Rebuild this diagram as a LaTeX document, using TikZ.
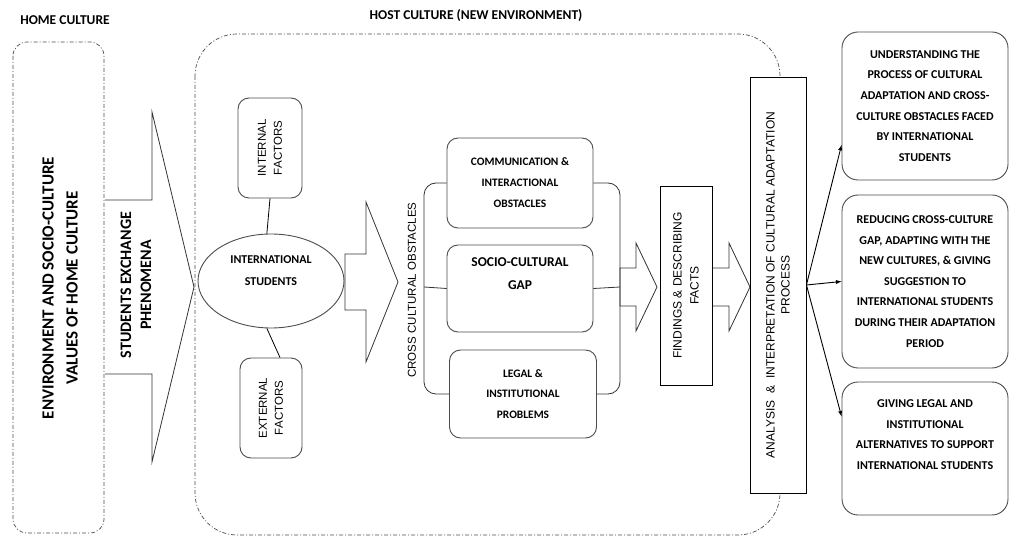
\documentclass[tikz,border=0pt]{standalone}
\usepackage{fontspec}
\setmainfont{Carlito}
\newfontfamily\arialfont{Liberation Sans}
\usepackage{tikz}
\usetikzlibrary{positioning,arrows,shapes.geometric}

\begin{document}
\begin{tikzpicture}
	[x=1pt,y=-1pt,>=latex,
	rb/.style={rectangle,rounded corners=11pt,draw=black!70,line width=0.9pt,fill=white,align=center},
	sb/.style={rectangle,draw=black,line width=0.9pt,fill=white,align=center},
	ba/.style={draw=black!80,line width=0.8pt,fill=white},
	reg/.style={draw=black!70,line width=0.7pt,dash pattern=on 4pt off 2pt on 1pt off 2pt},
	br/.style={draw=black!80,line width=0.8pt,rounded corners=12pt},
	bt/.style={font=\bfseries\fontsize{12}{20.6}\selectfont,align=center},
	rt/.style={font=\arialfont\fontsize{11.5}{16}\selectfont,align=center}]
	\useasboundingbox (0,0) rectangle (1010,537);
	%REGIONS
	\draw[reg,rounded corners=14pt] (13,42) rectangle (104,533);
	\draw[reg,rounded corners=42pt] (195,34) rectangle (780,535);
	\node[font=\bfseries\fontsize{13.5}{16}\selectfont] (homelbl) at (65,20) {HOME CULTURE};
	\node[font=\bfseries\fontsize{13.5}{16}\selectfont] (hostlbl) at (476,16) {HOST CULTURE (NEW ENVIRONMENT)};
	%HOME CULTURE
	\node[font=\bfseries\fontsize{17}{24}\selectfont,rotate=90,align=center] (hometxt) at (60,288) {ENVIRONMENT AND SOCIO-CULTURE\\VALUES OF HOME CULTURE};
	\draw[ba] (105,200) -- (152,200) -- (152,112) -- (194,287) -- (152,462) -- (152,374) -- (105,374);
	\node[font=\bfseries\fontsize{16}{20}\selectfont,rotate=90,align=center] (exchtxt) at (136,285) {STUDENTS EXCHANGE\\PHENOMENA};
	%HOST CULTURE
	\node[rb,rt,rotate=90,minimum width=100,minimum height=64] (intf) at (270,148) {INTERNAL\\FACTORS};
	\node[rb,rt,rotate=90,minimum width=100,minimum height=62] (extf) at (271,408) {EXTERNAL\\FACTORS};
	\node[ellipse,draw=black!70,line width=0.9pt,fill=white,minimum width=146,minimum height=94,
		label={[bt,font=\bfseries\fontsize{12}{22}\selectfont,yshift=10]center:INTERNATIONAL\\STUDENTS}] (intl) at (271,281) {};
	\draw[line width=0.8pt] (intf.west) -- (intl.95);
	\draw[line width=0.8pt] (intl.265) -- ([xshift=9pt]extf.east);
	%OBSTACLES
	\foreach \xa/\xb/\xc/\yc/\ys/\yh in {345/366/398/282/28/80,620/636/657/287/19/44,712/729/750/287/19/44}
		\draw[ba] (\xa,\yc-\ys) -- (\xb,\yc-\ys) -- (\xb,\yc-\yh) -- (\xc,\yc) -- (\xb,\yc+\yh) -- (\xb,\yc+\ys) -- (\xa,\yc+\ys) -- cycle;
	\node[rotate=90,rt] (cco) at (412,290) {CROSS CULTURAL OBSTACLES};
	\node[rb,bt,font=\bfseries\fontsize{11.4}{21}\selectfont,minimum width=146,minimum height=90] (comm) at (520,183) {COMMUNICATION \&\\INTERACTIONAL\\OBSTACLES};
	\node[rb,minimum width=146,minimum height=87,
		label={[bt,font=\bfseries\fontsize{13.5}{23}\selectfont,yshift=15]center:SOCIO-CULTURAL\\GAP}] (gap) at (520,288.5) {};
	\node[rb,bt,font=\bfseries\fontsize{11.4}{20.5}\selectfont,minimum width=147,minimum height=88] (legal) at (523,394) {LEGAL \&\\INSTITUTIONAL\\PROBLEMS};
	\coordinate (lbr) at (424,287);
	\coordinate (rbr) at (620,287);
	\draw[br] (comm.west) -| (lbr) |- (legal.west);
	\draw[br] (gap.west) -- (lbr);
	\draw[br] (comm.east) -| (rbr) |- (legal.east);
	\draw[br] (gap.east) -- (rbr);
	%RESULTS
	\node[sb,rt,rotate=90,minimum width=199,minimum height=52,font=\arialfont\fontsize{12}{17}\selectfont] (find) at (686,285.5) {FINDINGS \& DESCRIBING\\FACTS};
	\node[sb,rt,rotate=90,minimum width=416,minimum height=56,font=\arialfont\fontsize{12}{15}\selectfont] (ana) at (778,285) {ANALYSIS\ \ \&\ \ INTERPRETATION OF CULTURAL ADAPTATION\\PROCESS};
	\node[rb,bt,rounded corners=16pt,minimum width=166,minimum height=148] (out1) at (925,106) {UNDERSTANDING THE\\PROCESS OF CULTURAL\\ADAPTATION AND CROSS-\\CULTURE OBSTACLES FACED\\BY INTERNATIONAL\\STUDENTS};
	\node[rb,bt,rounded corners=16pt,minimum width=166,minimum height=173] (out2) at (925,281.5) {REDUCING CROSS-CULTURE\\GAP, ADAPTING WITH THE\\NEW CULTURES, \& GIVING\\SUGGESTION TO\\INTERNATIONAL STUDENTS\\DURING THEIR ADAPTATION\\PERIOD};
	\node[rb,rounded corners=16pt,minimum width=166,minimum height=133,
		label={[bt,yshift=14]center:GIVING LEGAL AND\\INSTITUTIONAL\\ALTERNATIVES TO SUPPORT\\INTERNATIONAL STUDENTS}] (out3) at (925,448.5) {};
	\draw[->,line width=0.9pt] (ana.south) -- (out1.205);
	\draw[->,line width=0.9pt] (ana.south) -- (out2.west);
	\draw[->,line width=0.9pt] (ana.south) -- (out3.159);
\end{tikzpicture}
\end{document}
